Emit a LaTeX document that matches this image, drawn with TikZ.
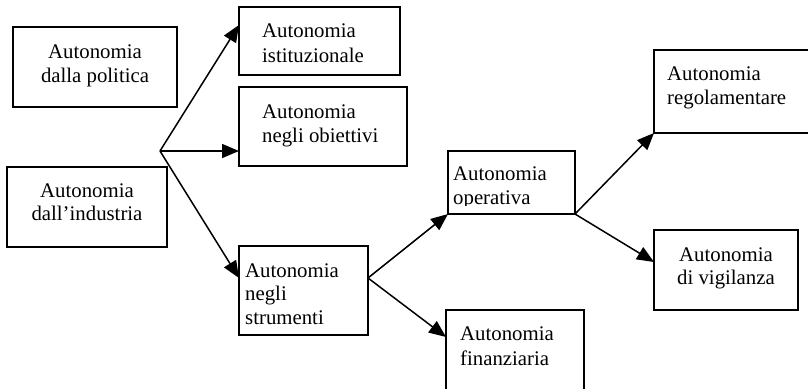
\documentclass[tikz,border=0pt]{standalone}
\usepackage{fontspec}
\setmainfont{Liberation Serif}
\usetikzlibrary{arrows.meta,calc}
\begin{document}
\begin{tikzpicture}[x=1pt,y=-1pt,
  boxline/.style={draw=black,line width=1.6pt},
  txt/.style={inner sep=0pt,font=\fontsize{20.8}{24}\selectfont},
  arr/.style={line width=1.5pt,-{Triangle[length=17pt,width=14pt]}}]
\useasboundingbox (0,0) rectangle (808,388);
\begin{scope}
\clip (0,0) rectangle (808,388);
% boxes
\draw[boxline] (13,27) rectangle (177,107);
\draw[boxline] (7,167) rectangle (167,247);
\draw[boxline] (239,7) rectangle (400,75);
\draw[boxline] (239,87) rectangle (407,166);
\draw[boxline] (239,246) rectangle (368,335);
\draw[boxline] (448,151) rectangle (575,214);
\draw[boxline] (654,50) rectangle (812,133);
\draw[boxline] (654,230) rectangle (798,310);
\draw[boxline] (446,310) rectangle (584,395);
\end{scope}
% connection points on the boxes
\coordinate (ist) at (239,25);
\coordinate (obi) at (239,151);
\coordinate (str) at (239,278);
\coordinate (strR) at (368,278);
\coordinate (opSW) at (448,214);
\coordinate (opSE) at (575,214);
\coordinate (fin) at (446,337);
\coordinate (regSW) at (654,133);
\coordinate (vig) at (654,262);
\coordinate (br) at (160,151);
% texts
\node[txt,anchor=base] (t1a) at (95,58) {Autonomia};
\node[txt,anchor=base] (t1b) at (95,82) {dalla politica};
\node[txt,anchor=base] (t2a) at (87,197) {Autonomia};
\node[txt,anchor=base] (t2b) at (87,220) {dall’industria};
\node[txt,anchor=base west] (t3a) at (262,37) {Autonomia};
\node[txt,anchor=base west] (t3b) at (262,62) {istituzionale};
\node[txt,anchor=base west] (t4a) at (262,118) {Autonomia};
\node[txt,anchor=base west] (t4b) at (262,142) {negli obiettivi};
\node[txt,anchor=base west] (t5a) at (245,277) {Autonomia};
\node[txt,anchor=base west] (t5b) at (245,300) {negli};
\node[txt,anchor=base west] (t5c) at (245,324) {strumenti};
\begin{scope}
\clip (449,152) rectangle (574,205);
\node[txt,anchor=base west] (t6a) at (453,180) {Autonomia};
\node[txt,anchor=base west] (t6b) at (453,204) {operativa};
\end{scope}
\node[txt,anchor=base west] (t7a) at (667,80) {Autonomia};
\node[txt,anchor=base west] (t7b) at (667,104) {regolamentare};
\node[txt,anchor=base] (t8a) at (726,261) {Autonomia};
\node[txt,anchor=base] (t8b) at (726,284) {di vigilanza};
\node[txt,anchor=base west] (t9a) at (460,340) {Autonomia};
\node[txt,anchor=base west] (t9b) at (460,365) {finanziaria};
% arrows
\draw[arr] (br) -- (ist);
\draw[arr] (br) -- (obi);
\draw[arr] (br) -- (str);
\draw[arr] (strR) -- (opSW);
\draw[arr] (strR) -- (fin);
\draw[arr] (opSE) -- (regSW);
\draw[arr] (opSE) -- (vig);
\end{tikzpicture}
\end{document}
